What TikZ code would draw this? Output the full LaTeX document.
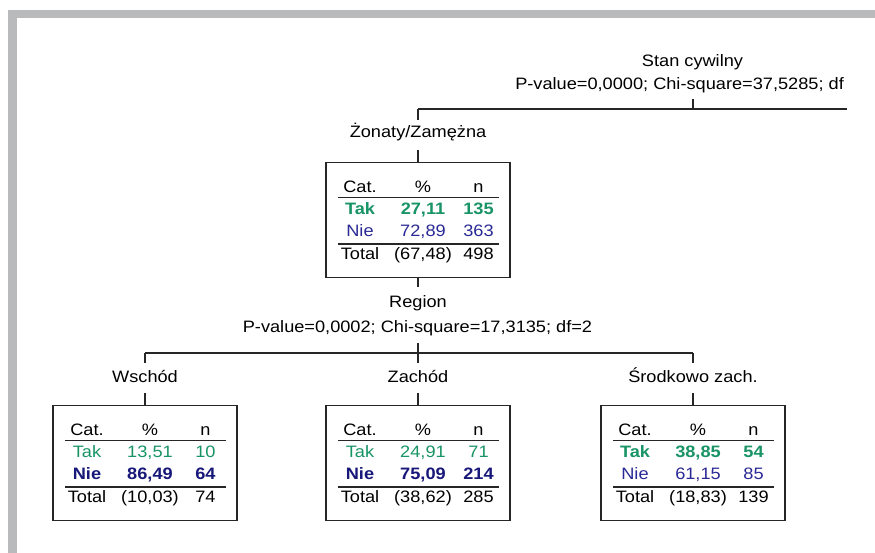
\documentclass[tikz,border=0pt]{standalone}
\usepackage{fontspec}
\setmainfont[FakeStretch=1.1]{Liberation Sans}
\usetikzlibrary{calc}

\definecolor{framegray}{RGB}{185,186,188}
\definecolor{linec}{RGB}{38,38,38}
\definecolor{takgreen}{RGB}{24,148,102}
\definecolor{nieblue}{RGB}{42,42,150}
\definecolor{nienavy}{RGB}{24,24,122}

\newcommand\treefont{\fontsize{12.4pt}{15pt}\selectfont}

\tikzset{
  lbl/.style={anchor=base, inner sep=0pt, font=\treefont},
  cell/.style={anchor=base, inner sep=0pt, font=\treefont},
  conn/.style={draw=linec, line width=1.05pt},
  rulel/.style={draw=linec, line width=1.05pt},
  cbox/.style={draw=linec, line width=1.05pt, fill=white, anchor=north,
    minimum width=138pt, minimum height=86.25pt, inner sep=0pt},
  tak/.style={text=takgreen},
  takb/.style={text=takgreen, font=\treefont\bfseries},
  nie/.style={text=nieblue},
  nieb/.style={text=nienavy, font=\treefont\bfseries},
}

% category table: name, centre x, top y, Tak style, Tak %, Tak n, Nie style, Nie %, Nie n
\newcommand\ctable[9]{%
  \begin{scope}[shift={(#2,#3)}]
    \node[cbox] (#1) at (0,0) {};
    \node[cell] (#1-hc) at (-58,30.5) {Cat.};
    \node[cell] (#1-hp) at (5,30.5) {\%};
    \node[cell] (#1-hn) at (60.5,30.5) {n};
    \draw[rulel] (-80,35.5) -- (81,35.5);
    \node[cell,#4] (#1-tc) at (-58,52.5) {Tak};
    \node[cell,#4] (#1-tp) at (5,52.5) {#5};
    \node[cell,#4] (#1-tn) at (60.5,52.5) {#6};
    \node[cell,#7] (#1-nc) at (-58,74.5) {Nie};
    \node[cell,#7] (#1-np) at (5,74.5) {#8};
    \node[cell,#7] (#1-nn) at (60.5,74.5) {#9};
    \draw[rulel] (-80,82) -- (81,82);
  \end{scope}}

% total row: name, centre x, top y, share, count
\newcommand\ctotal[5]{%
  \begin{scope}[shift={(#2,#3)}]
    \node[cell] (#1-sc) at (-58,97.5) {Total};
    \node[cell] (#1-sp) at (5,97.5) {#4};
    \node[cell] (#1-sn) at (60.5,97.5) {#5};
  \end{scope}}

\begin{document}
\begin{tikzpicture}[x=0.75pt,y=-0.75pt]
\useasboundingbox (0,0) rectangle (875,553);
\fill[white] (0,0) rectangle (875,553);

% window frame
\fill[framegray] (8,10) rectangle (875,18);
\fill[framegray] (8,10) rectangle (17,553);

\begin{scope}
\clip (17,18) rectangle (848,553);

% root split
\node[lbl] (stan) at (692.5,66) {Stan cywilny};
\node[lbl, anchor=base west] (stanstat) at (515,89.5) {P-value=0,0000; Chi-square=37,5285; df};
\coordinate (s0) at (693,99);
\coordinate (j0) at (693,109);
\coordinate (jL) at (418,109);
\coordinate (jR) at (847,109);
\draw[conn] (s0) -- (j0);
\draw[conn] (jL) -- (jR);

% married branch
\coordinate (zt) at (418,120);
\draw[conn] (jL) -- (zt);
\node[lbl] (zon) at (418,137) {Żonaty/Zamężna};
\coordinate (zb) at (418,150);
\ctable{n1}{418}{162}{takb}{27,11}{135}{nie}{72,89}{363}
\ctotal{n1}{418}{162}{(67,48)}{498}
\draw[conn] (zb) -- (n1.north);

% region split
\coordinate (rt) at (418,287);
\draw[conn] (n1.south) -- (rt);
\node[lbl] (reg) at (418,307) {Region};
\node[lbl] (regstat) at (417.5,332) {P-value=0,0002; Chi-square=17,3135; df=2};
\coordinate (r0) at (418,343);
\coordinate (r1) at (418,353);
\coordinate (rL) at (145,353);
\coordinate (rR) at (693,353);
\draw[conn] (r0) -- (r1);
\draw[conn] (rL) -- (rR);

\coordinate (wt) at (145,363);
\coordinate (zt2) at (418,363);
\coordinate (st) at (693,363);
\draw[conn] (rL) -- (wt);
\draw[conn] (r1) -- (zt2);
\draw[conn] (rR) -- (st);

\node[lbl] (wsch) at (145,382) {Wschód};
\node[lbl] (zach) at (418,382) {Zachód};
\node[lbl] (srod) at (693,382) {Środkowo zach.};

\coordinate (wb) at (145,393);
\coordinate (zb2) at (418,393);
\coordinate (sb) at (693,393);

\ctable{n2}{145}{405}{tak}{13,51}{10}{nieb}{86,49}{64}
\ctotal{n2}{145}{405}{(10,03)}{74}
\ctable{n3}{418}{405}{tak}{24,91}{71}{nieb}{75,09}{214}
\ctotal{n3}{418}{405}{(38,62)}{285}
\ctable{n4}{693}{405}{takb}{38,85}{54}{nie}{61,15}{85}
\ctotal{n4}{693}{405}{(18,83)}{139}

\draw[conn] (wb) -- (n2.north);
\draw[conn] (zb2) -- (n3.north);
\draw[conn] (sb) -- (n4.north);
\end{scope}
\end{tikzpicture}
\end{document}
